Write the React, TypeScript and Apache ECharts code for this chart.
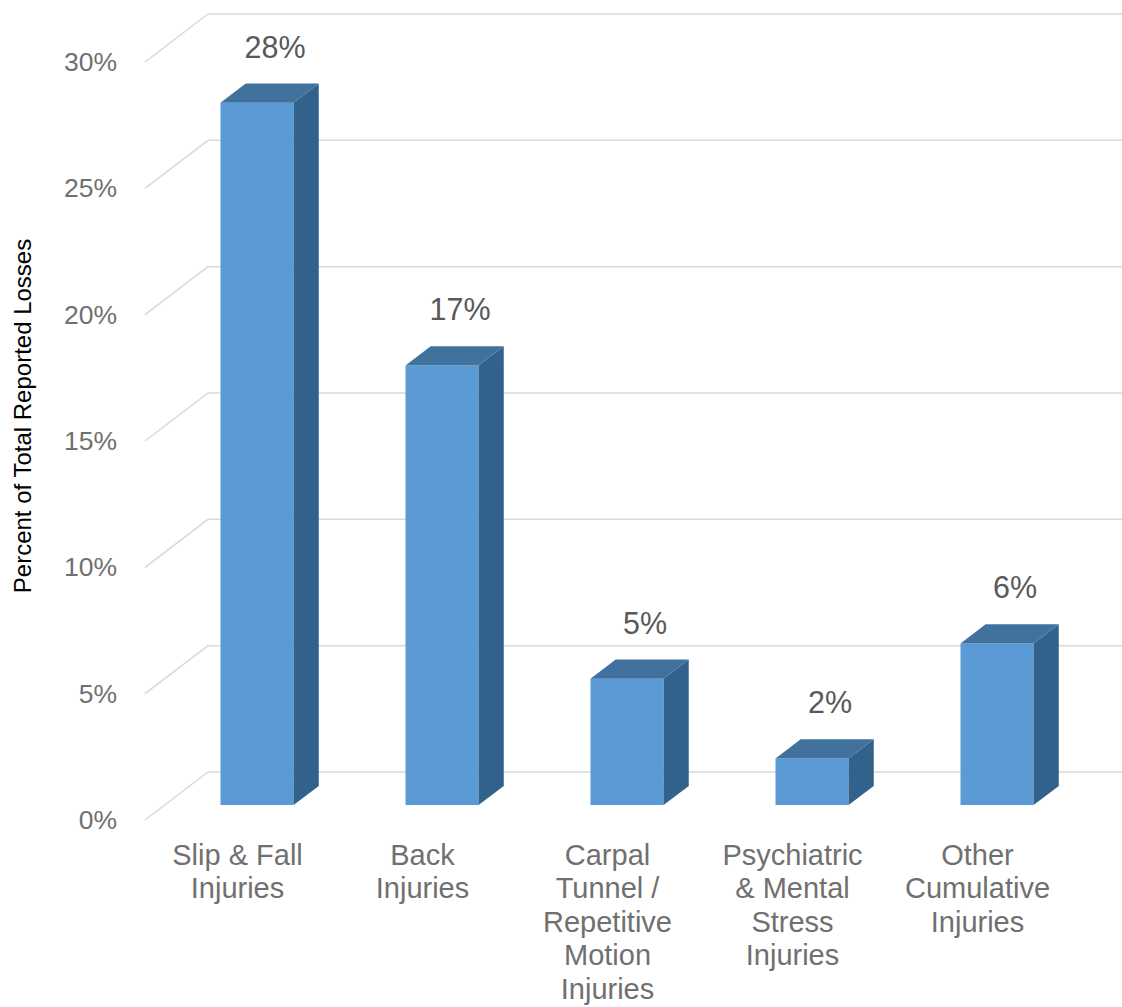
import React, { useEffect, useRef } from "react";
import * as echarts from "echarts";

const categories = [
  "Slip & Fall\nInjuries",
  "Back\nInjuries",
  "Carpal\nTunnel /\nRepetitive\nMotion\nInjuries",
  "Psychiatric\n& Mental\nStress\nInjuries",
  "Other\nCumulative\nInjuries",
];
const values = [27.8, 17.4, 5.0, 1.85, 6.4];
const yTicks = [0, 5, 10, 15, 20, 25, 30];
const yAxisTitle = "Percent of Total Reported Losses";

const FONT = "'Liberation Sans', Arial, sans-serif";
const DEPTH_X = 63;
const DEPTH_Y = 48;
const BAR_FRONT = 0.31;
const BAR_BACK = 0.71;
const BAR_W = 0.395;

export default function App() {
  const ref = useRef<HTMLDivElement>(null);
  useEffect(() => {
    if (!ref.current) return;
    const chart = echarts.init(ref.current, undefined, { renderer: "svg" });
    const option: any = {
      animation: false,
      backgroundColor: "#ffffff",
      textStyle: { fontFamily: FONT },
      grid: { left: 145, right: 52, top: 62, bottom: 187 },
      xAxis: {
        type: "category",
        data: categories,
        axisLine: { show: false },
        axisTick: { show: false },
        axisLabel: {
          interval: 0,
          fontSize: 29,
          lineHeight: 33.5,
          color: "#707070",
          margin: 18,
          fontFamily: FONT,
        },
      },
      yAxis: {
        type: "value",
        min: 0,
        max: 30,
        interval: 5,
        axisLine: { show: false },
        axisTick: { show: false },
        splitLine: { show: false },
        axisLabel: {
          formatter: "{value}%",
          fontSize: 26.5,
          color: "#707070",
          margin: 28,
          fontFamily: FONT,
        },
      },
      graphic: [
        {
          type: "text",
          x: 22,
          y: 416,
          rotation: Math.PI / 2,
          style: {
            text: yAxisTitle,
            fill: "#000000",
            fontSize: 24,
            fontFamily: FONT,
            align: "center",
            verticalAlign: "middle",
          },
        },
      ],
      series: [
        {
          type: "custom",
          clip: false,
          silent: true,
          data: yTicks,
          encode: { y: 0 },
          renderItem: (params: any, api: any) => {
            const v = api.value(0);
            const y = api.coord([0, v])[1];
            const cs = params.coordSys;
            const x0 = cs.x;
            const x1 = cs.x + cs.width;
            const lineStyle = { stroke: "#d9d9d9", lineWidth: 1.5, fill: null };
            return {
              type: "group",
              children: [
                {
                  type: "line",
                  shape: { x1: x0, y1: y, x2: x0 + DEPTH_X, y2: y - DEPTH_Y },
                  style: lineStyle,
                },
                {
                  type: "line",
                  shape: { x1: x0 + DEPTH_X, y1: y - DEPTH_Y, x2: x1 + DEPTH_X, y2: y - DEPTH_Y },
                  style: lineStyle,
                },
              ],
            };
          },
        },
        {
          type: "custom",
          clip: false,
          data: values.map((v, i) => [i, v]),
          encode: { x: 0, y: 1 },
          renderItem: (params: any, api: any) => {
            const idx = api.value(0);
            const v = api.value(1);
            const base = api.coord([idx, 0]);
            const top = api.coord([idx, v]);
            const band = api.size([1, 0])[0];
            const w = band * BAR_W;
            const ox = DEPTH_X * BAR_FRONT;
            const oy = DEPTH_Y * BAR_FRONT;
            const dx = DEPTH_X * (BAR_BACK - BAR_FRONT);
            const dy = DEPTH_Y * (BAR_BACK - BAR_FRONT);
            const xl = base[0] - w / 2 + ox;
            const xr = base[0] + w / 2 + ox;
            const yb = base[1] - oy;
            const yt = top[1] - oy;
            return {
              type: "group",
              children: [
                {
                  type: "polygon",
                  shape: { points: [[xl, yb], [xr, yb], [xr, yt], [xl, yt]] },
                  style: { fill: "#5b9bd5" },
                },
                {
                  type: "polygon",
                  shape: { points: [[xr, yb], [xr + dx, yb - dy], [xr + dx, yt - dy], [xr, yt]] },
                  style: { fill: "#32618b" },
                },
                {
                  type: "polygon",
                  shape: { points: [[xl, yt], [xr, yt], [xr + dx, yt - dy], [xl + dx, yt - dy]] },
                  style: { fill: "#41729e" },
                },
                {
                  type: "text",
                  x: (xl + xr) / 2 + 18,
                  y: yt - dy - 37,
                  style: {
                    text: Math.round(v) + "%",
                    fill: "#595959",
                    fontSize: 30.5,
                    fontFamily: FONT,
                    align: "center",
                    verticalAlign: "middle",
                    textAlign: "center",
                    textVerticalAlign: "middle",
                  },
                },
              ],
            };
          },
        },
      ],
    };
    chart.setOption(option);
    return () => chart.dispose();
  }, []);
  return (
    <div
      ref={ref}
      style={{ position: "absolute", left: 0, top: 0, width: 1122, height: 1007 }}
    />
  );
}
